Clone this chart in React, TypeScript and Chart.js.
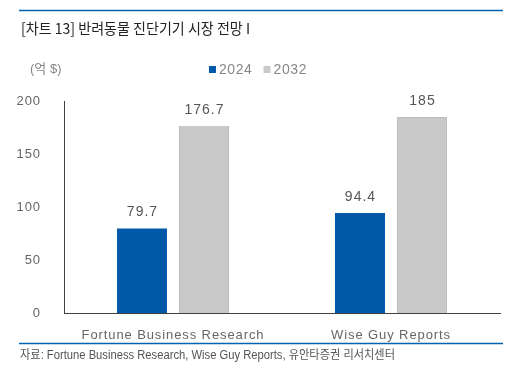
import React, { useEffect, useRef } from "react";
import { Chart, registerables } from "chart.js";

Chart.register(...registerables);

const categories = ["Fortune Business Research", "Wise Guy Reports"];
const seriesNames = ["2024", "2032"];
const values2024 = [79.7, 94.4];
const values2032 = [176.7, 185];
const yTickValues = [0, 50, 100, 150, 200];
const titleText = "[차트 13] 반려동물 진단기기 시장 전망 I";
const unitText = "(억 $)";
const sourceText = "자료: Fortune Business Research, Wise Guy Reports, 유안타증권 리서치센터";

const BLUE = "#0058A8";
const GRAY = "#C9C9C9";
const LINE_BLUE = "#0063B2";
const LATIN = "'Liberation Sans', Arial, 'Noto Sans CJK KR', sans-serif";

function fitText(ctx: any, text: string, x: number, y: number, width: number) {
  const w = ctx.measureText(text).width;
  const s = width / w;
  ctx.save();
  ctx.translate(x, y);
  ctx.scale(s, 1);
  ctx.fillText(text, 0, 0);
  ctx.restore();
}

const decorPlugin = {
  id: "decor",
  beforeDraw(chart: any) {
    const ctx = chart.ctx;
    ctx.save();
    ctx.fillStyle = "#ffffff";
    ctx.fillRect(0, 0, chart.width, chart.height);
    ctx.restore();
    ctx.letterSpacing = "0.9px";
  },
  afterDraw(chart: any) {
    const ctx = chart.ctx;
    ctx.save();
    ctx.letterSpacing = "0px";
    // top and bottom rules
    ctx.strokeStyle = LINE_BLUE;
    ctx.lineWidth = 1.5;
    ctx.beginPath();
    ctx.moveTo(19, 10.5);
    ctx.lineTo(503, 10.5);
    ctx.moveTo(19, 343.5);
    ctx.lineTo(503, 343.5);
    ctx.stroke();

    // title
    ctx.fillStyle = "#222222";
    ctx.font = "15px 'Noto Sans CJK KR', sans-serif";
    ctx.textBaseline = "middle";
    ctx.textAlign = "left";
    fitText(ctx, titleText, 21, 28, 229);

    // unit
    ctx.fillStyle = "#888888";
    ctx.font = "13px " + LATIN;
    ctx.fillText(unitText, 30, 69);

    // legend
    const colors = [BLUE, GRAY];
    ctx.font = "14px " + LATIN;
    ctx.letterSpacing = "0.6px";
    const ds = chart.data.datasets;
    const widths = ds.map((d: any) => ctx.measureText(d.label).width);
    const box = 7;
    const gapBox = 3;
    const gapItem = 11;
    let total = 0;
    widths.forEach((w: number, i: number) => {
      total += box + gapBox + w + (i < widths.length - 1 ? gapItem : 0);
    });
    let x = 258 - total / 2;
    ds.forEach((d: any, i: number) => {
      ctx.fillStyle = colors[i];
      ctx.fillRect(x, 66, box, box);
      x += box + gapBox;
      ctx.fillStyle = "#888888";
      ctx.fillText(d.label, x, 70);
      x += widths[i] + gapItem;
    });

    // data labels
    ctx.letterSpacing = "1px";
    ctx.fillStyle = "#555555";
    ctx.font = "14px " + LATIN;
    ctx.textAlign = "center";
    ctx.textBaseline = "bottom";
    ds.forEach((d: any, i: number) => {
      const meta = chart.getDatasetMeta(i);
      meta.data.forEach((el: any, j: number) => {
        ctx.fillText(String(d.data[j]), el.x + 0.5, el.y - 9);
      });
    });

    // source
    ctx.letterSpacing = "0px";
    ctx.textAlign = "left";
    ctx.textBaseline = "middle";
    ctx.fillStyle = "#555555";
    ctx.font = "12px 'Liberation Sans', 'Noto Sans CJK KR', sans-serif";
    fitText(ctx, sourceText, 20, 356, 375);
    ctx.restore();
  },
};

export default function App() {
  const ref = useRef<HTMLCanvasElement | null>(null);
  useEffect(() => {
    if (!ref.current) return;
    const chart = new Chart(ref.current, {
      type: "bar",
      data: {
        labels: categories,
        datasets: [
          {
            label: seriesNames[0],
            data: values2024,
            backgroundColor: BLUE,
            borderColor: BLUE,
            borderWidth: 0,
          },
          {
            label: seriesNames[1],
            data: values2032,
            backgroundColor: GRAY,
            borderColor: "#BBBBBB",
            borderWidth: 1,
          },
        ],
      },
      options: {
        animation: false,
        responsive: false,
        maintainAspectRatio: false,
        devicePixelRatio: 1,
        layout: { padding: { top: 101, right: 13, left: 0, bottom: 0 } },
        datasets: {
          bar: { categoryPercentage: 0.569, barPercentage: 0.806 },
        },
        plugins: {
          legend: { display: false },
          tooltip: { enabled: false },
          title: { display: false },
        },
        scales: {
          x: {
            grid: { display: false },
            border: { display: true, color: "#404040", width: 1 },
            ticks: {
              color: "#666666",
              font: { family: LATIN, size: 13 },
              padding: 7,
              maxRotation: 0,
            },
            afterFit(s: any) {
              s.height = 63;
            },
          },
          y: {
            min: 0,
            max: 200,
            grid: { display: false },
            border: { display: true, color: "#404040", width: 1 },
            afterBuildTicks(s: any) {
              s.ticks = yTickValues.map((v) => ({ value: v }));
            },
            ticks: {
              color: "#666666",
              font: { family: LATIN, size: 13 },
              padding: 15,
            },
            afterFit(s: any) {
              s.width = 64;
            },
          },
        },
      },
      plugins: [decorPlugin],
    });
    return () => chart.destroy();
  }, []);
  return (
    <div style={{ position: "fixed", left: 0, top: 0, width: 513, height: 376 }}>
      <canvas ref={ref} width={513} height={376} style={{ width: 513, height: 376 }} />
    </div>
  );
}
